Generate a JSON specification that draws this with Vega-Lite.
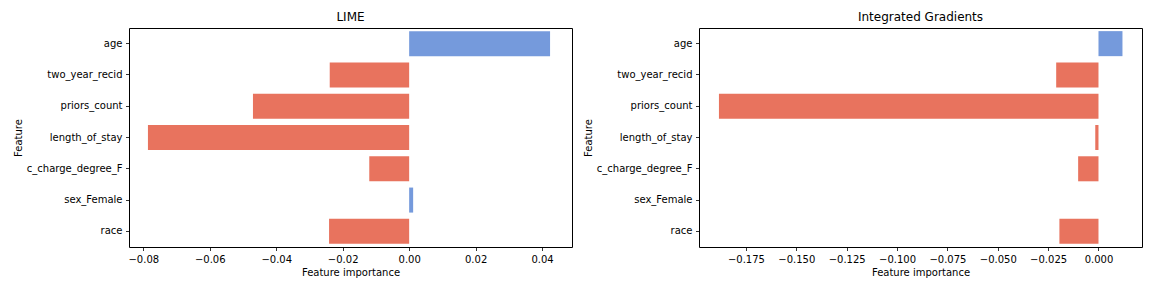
{
  "$schema": "https://vega.github.io/schema/vega-lite/v6.json",
  "padding": {"left": 12, "top": 10, "right": 5, "bottom": 5},
  "bounds": "flush",
  "spacing": 127,
  "data": {
    "values": [
      {"method": "LIME", "feature": "age", "importance": 0.0424},
      {"method": "LIME", "feature": "two_year_recid", "importance": -0.0239},
      {"method": "LIME", "feature": "priors_count", "importance": -0.0470},
      {"method": "LIME", "feature": "length_of_stay", "importance": -0.0786},
      {"method": "LIME", "feature": "c_charge_degree_F", "importance": -0.0120},
      {"method": "LIME", "feature": "sex_Female", "importance": 0.0012},
      {"method": "LIME", "feature": "race", "importance": -0.0241},
      {"method": "IG", "feature": "age", "importance": 0.0119},
      {"method": "IG", "feature": "two_year_recid", "importance": -0.0210},
      {"method": "IG", "feature": "priors_count", "importance": -0.1884},
      {"method": "IG", "feature": "length_of_stay", "importance": -0.0016},
      {"method": "IG", "feature": "c_charge_degree_F", "importance": -0.0101},
      {"method": "IG", "feature": "sex_Female", "importance": 0.0},
      {"method": "IG", "feature": "race", "importance": -0.0194}
    ]
  },
  "config": {
    "font": "DejaVu Sans",
    "view": {"stroke": "#000000", "strokeWidth": 1},
    "axis": {
      "grid": false,
      "domain": false,
      "tickColor": "#000000",
      "tickSize": 3.5,
      "tickWidth": 0.8,
      "labelPadding": 3.5,
      "labelFontSize": 10,
      "labelColor": "#000000",
      "titleFontSize": 10,
      "titleFontWeight": "normal",
      "titleColor": "#000000",
      "titlePadding": 3
    },
    "title": {"fontSize": 12, "fontWeight": "normal", "color": "#000000", "offset": 4}
  },
  "hconcat": [
    {
      "title": "LIME",
      "width": 443,
      "height": 219,
      "transform": [{"filter": "datum.method === 'LIME'"}],
      "mark": {"type": "bar"},
      "encoding": {
        "y": {
          "field": "feature",
          "type": "nominal",
          "sort": null,
          "title": "Feature",
          "scale": {"paddingInner": 0.2, "paddingOuter": 0.1}
        },
        "x": {
          "field": "importance",
          "type": "quantitative",
          "title": "Feature importance",
          "scale": {"domain": [-0.0843, 0.049], "nice": false, "zero": false},
          "axis": {"values": [-0.08, -0.06, -0.04, -0.02, 0, 0.02, 0.04], "format": ".2f"}
        },
        "color": {
          "condition": {"test": "datum.importance > 0", "value": "#759ADC"},
          "value": "#E8735E"
        }
      }
    },
    {
      "title": "Integrated Gradients",
      "width": 443,
      "height": 219,
      "transform": [{"filter": "datum.method === 'IG'"}],
      "mark": {"type": "bar"},
      "encoding": {
        "y": {
          "field": "feature",
          "type": "nominal",
          "sort": null,
          "title": "Feature",
          "scale": {"paddingInner": 0.2, "paddingOuter": 0.1}
        },
        "x": {
          "field": "importance",
          "type": "quantitative",
          "title": "Feature importance",
          "scale": {"domain": [-0.1983, 0.0216], "nice": false, "zero": false},
          "axis": {"values": [-0.175, -0.15, -0.125, -0.1, -0.075, -0.05, -0.025, 0], "format": ".3f"}
        },
        "color": {
          "condition": {"test": "datum.importance > 0", "value": "#759ADC"},
          "value": "#E8735E"
        }
      }
    }
  ],
  "resolve": {"scale": {"x": "independent", "y": "independent"}}
}
